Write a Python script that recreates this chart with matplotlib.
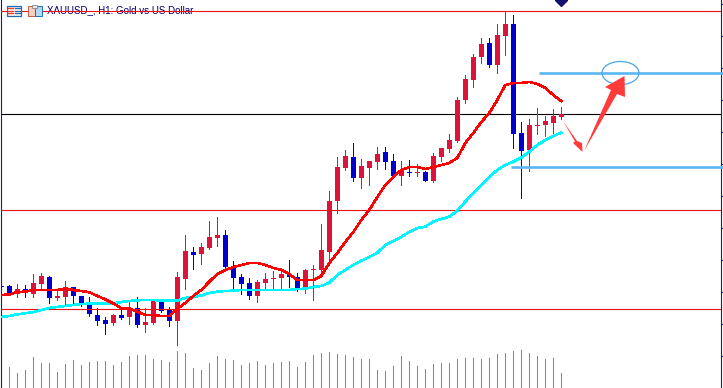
import matplotlib
matplotlib.use("Agg")
from matplotlib import pyplot as plt
from matplotlib.patches import Ellipse, Polygon, Rectangle

opens = [286, 286, 294, 289, 294, 284, 277, 298, 297, 287, 296, 304, 315, 320, 323, 315, 317, 308, 325, 323, 302, 309, 321, 279, 252, 254, 248, 238,
         235, 267, 277, 283, 296, 283, 279, 278, 274, 277, 288, 270, 270, 252, 201, 168, 157, 178, 168, 162, 152, 161, 176, 172, 173, 172, 181, 157, 149,
         141, 100, 80, 57, 43, 65, 36, 24, 133, 150, 126, 125, 123, 117]
closes = [287, 294, 289, 293, 283, 276, 298, 296, 287, 296, 304, 314, 321, 324, 315, 318, 308, 325, 322, 301, 311, 321, 277, 251, 255, 247, 237, 235,
          267, 278, 284, 296, 282, 279, 278, 274, 277, 288, 270, 269, 250, 201, 167, 156, 178, 166, 161, 154, 162, 176, 171, 173, 172, 181, 156, 148, 140,
          100, 79, 57, 44, 65, 35, 24, 134, 151, 125, 125, 121, 116, 114]
highs = [286, 285, 284, 285, 274, 273, 276, 290, 281, 287, 296, 297, 308, 317, 314, 308, 302, 297, 308, 300, 301, 307, 272, 235, 247, 243, 221, 217,
         230, 261, 274, 278, 280, 273, 271, 268, 260, 273, 269, 265, 224, 191, 157, 150, 143, 159, 161, 147, 147, 154, 161, 160, 164, 171, 153, 148, 134,
         97, 75, 54, 38, 38, 24, 11, 15, 122, 119, 108, 116, 109, 107]
lows = [287, 295, 297, 297, 297, 288, 303, 300, 305, 305, 306, 316, 325, 334, 325, 319, 324, 327, 332, 324, 312, 326, 345, 289, 269, 264, 249, 246,
        270, 290, 294, 299, 302, 290, 289, 289, 287, 291, 293, 300, 276, 259, 213, 170, 181, 188, 185, 169, 169, 176, 185, 176, 176, 181, 182, 161, 152,
        142, 103, 87, 63, 67, 73, 55, 148, 198, 171, 134, 136, 135, 119]
volume_tops = [388, 367, 373, 370, 357, 363, 363, 372, 364, 360, 365, 362, 361, 361, 365, 362, 356, 355, 355, 359, 360, 362, 351, 353, 368, 370, 363, 356,
               359, 360, 365, 363, 361, 365, 363, 362, 361, 367, 362, 355, 353, 352, 354, 355, 357, 359, 359, 370, 371, 366, 356, 361, 366, 369, 364, 363, 363,
               359, 358, 358, 359, 358, 354, 353, 351, 350, 353, 356, 359, 358, 373]
ma_fast = [295, 294.5, 292, 291.7, 290, 290, 290, 290, 288.7, 290, 291, 292.3, 296, 299.3, 303.3, 308.3, 308.3, 311.7, 315, 315, 316, 316, 309, 303, 296, 290, 281.7, 274,
           270, 267, 265, 263, 263, 265, 268, 270, 274, 280, 280, 280, 276, 263, 253, 242, 232, 220, 210, 197, 185, 177, 170, 167, 167, 169, 167, 165, 163,
           158, 143, 133, 122, 113, 100, 85, 83, 83, 82, 84, 88, 95, 101]
ma_slow = [317, 316, 314.3, 313.3, 312, 310, 308, 307, 306, 305, 304, 303.7, 303.7, 303.7, 303.3, 302, 301, 300.3, 300, 300, 300.7, 300.7, 300.7, 298, 297, 295.5, 293, 291.7,
           291, 290.7, 290, 290, 290, 290, 290, 290, 290, 289, 288.7, 287, 286, 282.7, 275, 270, 265, 260.7, 257, 252.7, 245, 241, 237, 232, 228, 226.7, 221.7, 219, 216.7,
           210.7, 201.7, 193, 185, 177, 170, 165, 161.7, 157.7, 151.7, 145, 140, 136, 132.7]
red_levels = [11.3, 210.3, 309.3]
black_level = 114.3
target_levels = [73.3, 167.3]
target_start_px = [539, 511]
price_ticks = [4, 36, 68, 100, 132, 164, 196, 228, 260, 292, 324, 356]
title_text = "XAUUSD_, H1: Gold vs US Dollar"

WIDTH, HEIGHT = 723, 388
BAR_STEP = 8.0
FIRST_BAR_PX = 9.3
LEFT_PX, RIGHT_PX = 1.0, 721.0


def to_x(px):
    return (px - FIRST_BAR_PX) / BAR_STEP


def draw_candles(ax, xs):
    up_color, down_color = "#dc143c", "#0000cd"
    for x, o, c, h, l in zip(xs, opens, closes, highs, lows):
        color = up_color if c < o else down_color
        # a doji still gets a visible body
        top, bottom = min(o, c), max(o, c)
        ax.vlines(x, h, l, color=color, lw=0.7, zorder=3, antialiased=False)
        ax.add_patch(Rectangle((x - 2.5 / BAR_STEP, top), 5 / BAR_STEP, max(bottom - top, 1),
                               fc=color, ec="none", zorder=3, antialiased=False))


def draw_annotations(ax):
    for level, start in zip(target_levels, target_start_px):
        ax.plot([to_x(start), to_x(730)], [level, level], color="#5ab6f2", lw=1.9,
                solid_capstyle="butt", zorder=4, clip_on=False)
    ax.add_patch(Ellipse((to_x(620.5), 73), 37 / BAR_STEP, 23, fc="none", ec="#4aa6e6", lw=0.9, zorder=6))
    big_arrow = [(584, 151), (611, 90), (605, 87), (624.5, 76), (625, 97), (617, 94)]
    small_arrow = [(563, 121), (577, 141), (582, 143), (582.5, 152), (573, 143), (575, 141.5)]
    for shape in (big_arrow, small_arrow):
        ax.add_patch(Polygon([(to_x(a), b) for a, b in shape], fc="#ff3c3c", ec="none", zorder=6))


def draw_header(ax):
    # the two small toolbar icons next to the symbol name
    ax.add_patch(Rectangle((to_x(6.5), 5.5), 14 / BAR_STEP, 10, fc="#fdeee8", ec="#1f6fb0", lw=0.9, zorder=7))
    for y in (8, 10.5, 13):
        ax.plot([to_x(8), to_x(13)], [y, y], color="#e8402c", lw=0.9, zorder=8)
        ax.plot([to_x(14.5), to_x(19.5)], [y, y], color="#1f6fb0", lw=0.9, zorder=8)
    ax.add_patch(Rectangle((to_x(27.5), 6), 7 / BAR_STEP, 10, fc="#fbcfc0", ec="#b8604c", lw=0.7, zorder=7))
    ax.add_patch(Rectangle((to_x(35), 6), 7 / BAR_STEP, 10, fc="#b4d8f2", ec="#1f6fb0", lw=0.7, zorder=7))
    ax.add_patch(Rectangle((to_x(32), 5), 5 / BAR_STEP, 3, fc="#e8e8e8", ec="#888888", lw=0.6, zorder=8))
    ax.text(to_x(47), 10.3, title_text, fontsize=7.0, color="#00006e", va="center", ha="left",
            family="Liberation Sans", zorder=2)


def main():
    fig = plt.figure(figsize=(WIDTH / 100, HEIGHT / 100), dpi=100, facecolor="white")
    ax = fig.add_axes([LEFT_PX / WIDTH, 0, (RIGHT_PX - LEFT_PX) / WIDTH, 1])
    ax.set_xlim(to_x(LEFT_PX), to_x(RIGHT_PX))
    ax.set_ylim(388, 0)

    xs = list(range(-1, len(opens) - 1))

    ax.vlines(xs, volume_tops, 388, color="#3cb83c", lw=0.7, antialiased=False, zorder=2)
    ax.axhline(black_level, color="black", lw=0.8, zorder=2)
    draw_candles(ax, xs)
    for level in red_levels:
        ax.axhline(level, color="#ee1111", lw=0.8, zorder=4)
    ax.plot(xs, ma_slow, color="#00f5ff", lw=1.15, zorder=5, antialiased=False)
    ax.plot(xs, ma_fast, color="#ff0000", lw=1.15, zorder=5, antialiased=False)
    draw_annotations(ax)
    ax.plot([xs[-1]], [0], marker="D", color="#14146e", ms=6, zorder=6)
    draw_header(ax)

    for side in ("top", "bottom"):
        ax.spines[side].set_visible(False)
    for side in ("left", "right"):
        ax.spines[side].set_color("#1a1a78")
        ax.spines[side].set_linewidth(0.8)
    ax.set_xticks([])
    ax.yaxis.tick_right()
    ax.set_yticks(price_ticks)
    ax.set_yticklabels([])
    ax.tick_params(axis="y", length=1.4, width=0.7, color="#1a1a78")

    fig.savefig("out.png", dpi=100)


if __name__ == "__main__":
    main()
